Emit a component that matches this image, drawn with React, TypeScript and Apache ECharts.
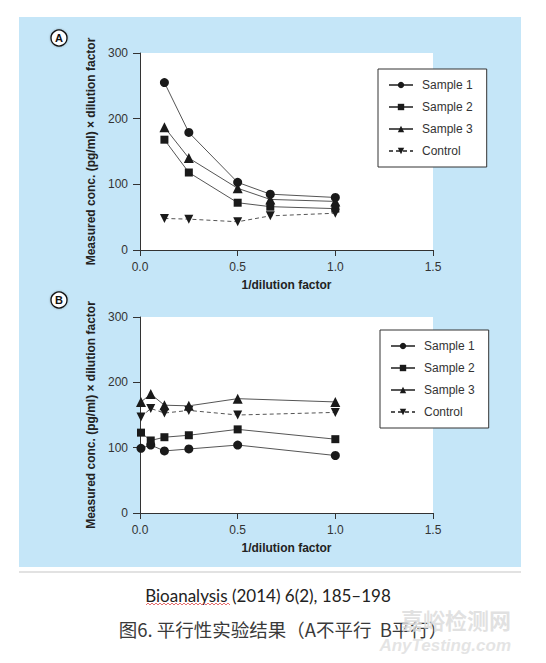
import React from "react";
import * as echarts from "echarts";

// panel A: not parallel
const dilutionA = [0.125, 0.25, 0.5, 0.667, 1.0];
const sample1A = [255, 179, 103, 85, 80];
const sample2A = [168, 118, 72, 66, 63];
const sample3A = [187, 140, 94, 77, 74];
const controlA = [48, 47, 43, 52, 56];

// panel B: parallel
const dilutionB = [0.005, 0.055, 0.125, 0.25, 0.5, 1.0];
const sample1B = [99, 104, 95, 98, 104, 88];
const sample2B = [123, 111, 116, 119, 128, 113];
const sample3B = [170, 182, 165, 164, 175, 170];
const controlB = [147, 160, 153, 157, 150, 154];

const legendNames = ["Sample 1", "Sample 2", "Sample 3", "Control"];
const xTicks = [0, 0.5, 1.0, 1.5];
const yTicks = [0, 100, 200, 300];

const FONT = "Liberation Sans, Arial, sans-serif";
const INK = "#1a1a1a";
const LINE = "#555";

const markers = [
  { symbol: "circle", size: 9, rotate: 0, dashed: false },
  { symbol: "rect", size: 8, rotate: 0, dashed: false },
  { symbol: "triangle", size: 10, rotate: 0, dashed: false },
  { symbol: "triangle", size: 9, rotate: 180, dashed: true },
];

function makeSeries(prefix: string, idx: number, xs: number[], groups: number[][]) {
  return groups.map((ys, i) => ({
    name: `${prefix} ${legendNames[i]}`,
    type: "line",
    xAxisIndex: idx,
    yAxisIndex: idx,
    data: ys.map((y, j) => [xs[j], y]),
    symbol: markers[i].symbol,
    symbolSize: markers[i].size,
    symbolRotate: markers[i].rotate,
    itemStyle: { color: INK },
    lineStyle: { color: LINE, width: 1, type: markers[i].dashed ? [4, 3] : "solid" },
    emphasis: { disabled: true },
  }));
}

function xAxis(idx: number) {
  return {
    type: "value",
    gridIndex: idx,
    min: 0,
    max: 1.5,
    interval: 0.5,
    name: "1/dilution factor",
    nameLocation: "middle",
    nameGap: 29,
    nameTextStyle: { fontFamily: FONT, fontSize: 12, fontWeight: "bold", color: "#222" },
    axisLine: { lineStyle: { color: "#333", width: 1 } },
    axisTick: { length: 6, lineStyle: { color: "#333" } },
    axisLabel: {
      margin: 11,
      fontFamily: FONT,
      fontSize: 12,
      color: "#333",
      formatter: (v: number) => (xTicks.includes(v) ? v.toFixed(1) : ""),
    },
    splitLine: { show: false },
  };
}

function yAxis(idx: number) {
  return {
    type: "value",
    gridIndex: idx,
    min: 0,
    max: 300,
    interval: 100,
    name: "Measured conc. (pg/ml) \u00d7 dilution factor",
    nameLocation: "middle",
    nameGap: 41,
    nameTextStyle: { fontFamily: FONT, fontSize: 12, fontWeight: "bold", color: "#222" },
    axisLine: { show: true, lineStyle: { color: "#333", width: 1 } },
    axisTick: { show: true, length: 7, lineStyle: { color: "#333" } },
    axisLabel: {
      margin: 12,
      fontFamily: FONT,
      fontSize: 12,
      color: "#333",
      formatter: (v: number) => (yTicks.includes(v) ? String(v) : ""),
    },
    splitLine: { show: false },
  };
}

function legend(prefix: string, left: number, top: number) {
  return {
    orient: "vertical",
    left,
    top,
    data: legendNames.map((n) => `${prefix} ${n}`),
    formatter: (name: string) => name.slice(prefix.length + 1),
    itemWidth: 24,
    itemHeight: 8,
    itemGap: 10,
    padding: [10, 14, 10, 10],
    backgroundColor: "#fff",
    borderColor: "#333",
    borderWidth: 1,
    borderRadius: 0,
    selectedMode: false,
    textStyle: { fontFamily: FONT, fontSize: 12, color: "#333", padding: [0, 0, 0, 4] },
  };
}

function badge(letter: string, cx: number, cy: number) {
  return {
    type: "group",
    children: [
      {
        type: "circle",
        shape: { cx, cy, r: 8 },
        style: { fill: "#fff", stroke: "#111", lineWidth: 1.3, shadowBlur: 2, shadowColor: "rgba(0,0,0,0.3)" },
      },
      {
        type: "text",
        x: cx,
        y: cy,
        style: {
          text: letter,
          fontFamily: FONT,
          fontSize: 11,
          fontWeight: "bold",
          fill: "#111",
          textAlign: "center",
          textVerticalAlign: "middle",
        },
      },
    ],
  };
}

// red wavy spell-check underline under "Bioanalysis"
const wavy: number[][] = [];
for (let x = 146; x <= 230; x += 2) wavy.push([x, x % 4 === 0 ? 603 : 605]);

export default function App() {
  const ref = React.useRef<HTMLDivElement>(null);

  React.useEffect(() => {
    if (!ref.current) return;
    const c = echarts.init(ref.current, undefined, { renderer: "svg" });
    c.setOption({
      animation: false,
      textStyle: { fontFamily: FONT },
      grid: [
        { left: 140, top: 53, width: 293, height: 197, show: true, backgroundColor: "#fff", borderWidth: 0 },
        { left: 140, top: 317, width: 293, height: 196, show: true, backgroundColor: "#fff", borderWidth: 0 },
      ],
      xAxis: [xAxis(0), xAxis(1)],
      yAxis: [yAxis(0), yAxis(1)],
      legend: [legend("A", 378, 69), legend("B", 380, 330)],
      series: [
        ...makeSeries("A", 0, dilutionA, [sample1A, sample2A, sample3A, controlA]),
        ...makeSeries("B", 1, dilutionB, [sample1B, sample2B, sample3B, controlB]),
      ],
      graphic: [
        { type: "rect", z: -1, shape: { x: 19, y: 17, width: 502, height: 550 }, style: { fill: "#c5e6f8" } },
        { type: "rect", z: -1, shape: { x: 19, y: 571, width: 502, height: 2 }, style: { fill: "#e2e2e2" } },
        badge("A", 59, 38),
        badge("B", 59, 300),
        {
          type: "text",
          x: 268,
          y: 595,
          style: {
            text: "Bioanalysis (2014) 6(2), 185\u2013198",
            fontFamily: "Lato, sans-serif",
            fontSize: 17,
            fill: "#222",
            textAlign: "center",
            textVerticalAlign: "middle",
          },
        },
        { type: "polyline", shape: { points: wavy }, style: { stroke: "#e04848", lineWidth: 0.8, fill: "none" } },
        {
          type: "text",
          x: 283,
          y: 629,
          style: {
            text: "图6. 平行性实验结果（A不平行  B平行）",
            fontFamily: "Noto Sans CJK SC, sans-serif",
            fontSize: 18.5,
            fill: "#3a3a3a",
            textAlign: "center",
            textVerticalAlign: "middle",
          },
        },
        {
          type: "text",
          x: 511,
          y: 619,
          style: {
            text: "嘉峪检测网",
            fontFamily: "Noto Sans CJK SC, sans-serif",
            fontSize: 22,
            fontWeight: "bold",
            fill: "#dcdcdc",
            opacity: 0.85,
            textAlign: "right",
            textVerticalAlign: "middle",
          },
        },
        {
          type: "text",
          x: 511,
          y: 645,
          style: {
            text: "AnyTesting.com",
            fontFamily: FONT,
            fontSize: 17,
            fontStyle: "italic",
            fontWeight: "bold",
            fill: "#e0e0e0",
            opacity: 0.85,
            textAlign: "right",
            textVerticalAlign: "middle",
          },
        },
      ],
    });
    return () => c.dispose();
  }, []);

  return (
    <div
      ref={ref}
      style={{ position: "absolute", left: 0, top: 0, width: 546, height: 663, background: "#fff" }}
    />
  );
}
